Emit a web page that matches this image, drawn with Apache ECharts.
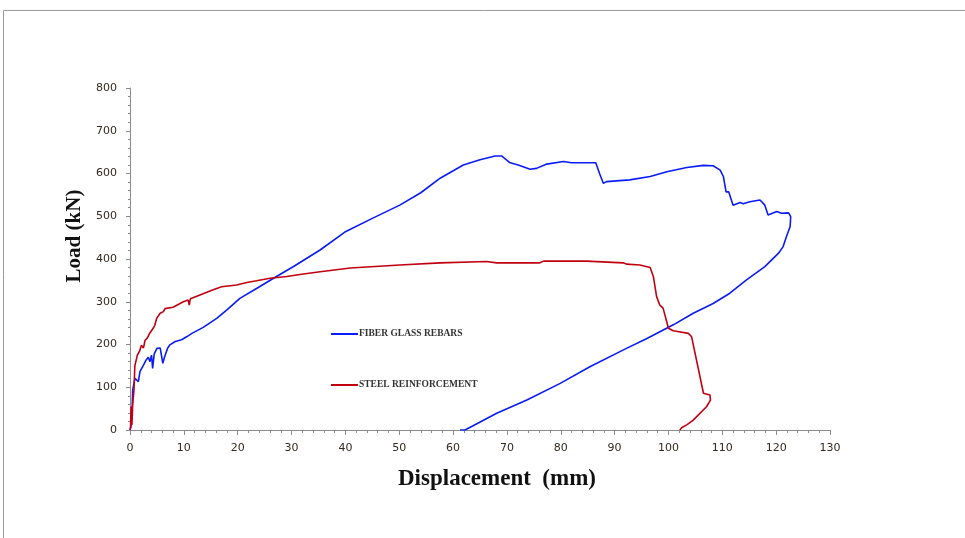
<!DOCTYPE html>
<html>
<head>
<meta charset="utf-8">
<script src="https://cdn.jsdelivr.net/npm/echarts@6/dist/echarts.min.js"></script>
<style>html,body{margin:0;padding:0;background:#fff;}#c{width:965px;height:538px;}</style>
</head>
<body>
<div id="c"></div>
<script>
var fiberDisp = [0,0.2,0.4,0.5,0.7,0.93,1.2,1.55,1.86,2.2,2.5,2.7,3.0,3.4,3.7,4.0,4.2,4.5,5.0,5.6,5.9,6.1,6.4,7.0,7.4,8.4,9.6,10.5,11.5,13.6,16.1,18.0,20.4,23.5,27.2,30.3,35.3,39.9,45,50.1,54,57.6,61.9,65.0,67.8,69.0,70.6,72.1,74.3,75.5,77.4,80.5,82.0,86.5,87.2,87.9,88.5,92.8,96.6,99.7,103.4,106.5,108.3,109.6,110.2,110.7,111.2,112.0,113.3,113.9,115.1,117.0,117.9,118.5,120.1,121.0,122.3,122.7,122.6,121.9,121.3,120.4,117.9,114.5,111.4,108.3,104.6,100.9,96.0,92.2,85.4,79.9,73.7,68.1,63.1,62.2,61.3];
var fiberLoad = [0,10,50,94,95,121,125,113,137,145,152,150,164,170,160,175,144,178,191,192,190,156,170,192,199,207,211,218,226,240,261,281,308,331,359,382,421,463,495,526,555,589,620,632,641,641,625,620,610,612,622,628,625,625,600,577,581,585,593,604,614,619,618,608,593,557,557,526,532,529,534,538,526,503,511,507,508,499,476,452,429,413,382,351,320,296,273,246,214,191,148,109,70,39,6,0,0];
var steelDisp = [0,0.1,0.2,0.35,0.5,0.74,0.9,1.1,1.36,1.8,2.1,2.35,2.5,2.8,3.2,3.6,4.3,4.6,4.95,5.6,6.2,6.5,8.0,9.3,9.9,10.8,11.0,11.2,13.0,15.2,17.0,19.8,21.7,23.5,26.0,29.1,32.2,35.3,40.9,50.1,57.6,66.2,68.1,76.1,76.8,84.8,85.1,91.6,92.2,94.7,96.6,97.2,97.8,98.4,99.0,100.0,100.9,103.7,104.3,106.5,107.7,107.8,107.1,104.6,103.4,102.5,102.1];
var steelLoad = [0,5,55,12,60,94,150,148,175,185,198,199,192,210,215,225,238,245,261,273,277,284,287,296,300,304,292,307,316,327,335,339,345,349,355,359,365,370,379,386,391,394,391,391,395,395,392,391,388,386,380,359,312,292,285,238,232,226,218,86,82,70,55,23,12,6,0];
var seriesNames = ['FIBER GLASS REBARS', 'STEEL REINFORCEMENT'];
var xTitle = 'Displacement  (mm)';
var yTitle = 'Load (kN)';

function pairs(xs, ys) { return xs.map(function (x, i) { return [x, ys[i]]; }); }

var chart = echarts.init(document.getElementById('c'));
var labelStyle = { color: '#33291f', fontFamily: 'DejaVu Sans', fontSize: 11 };
var axisGray = '#8c8c8c';
chart.setOption({
  animation: false,
  backgroundColor: '#fff',
  graphic: [{
    type: 'rect', silent: true,
    shape: { x: 3.5, y: 10.5, width: 1100, height: 700 },
    style: { fill: 'none', stroke: '#9a9a9a', lineWidth: 1 }
  }],
  grid: { left: 130, right: 135, top: 88, bottom: 108, containLabel: false },
  legend: {
    orient: 'vertical', left: 331, top: 329, itemGap: 41, padding: 0,
    icon: 'rect', itemWidth: 27, itemHeight: 2,
    textStyle: { fontFamily: 'Liberation Serif', fontWeight: 'bold', fontSize: 9.5, color: '#333', padding: [0, 0, 0, -4] },
    data: seriesNames
  },
  xAxis: {
    type: 'value', min: 0, max: 130, interval: 10,
    name: xTitle, nameLocation: 'middle', nameGap: 38,
    nameTextStyle: { fontFamily: 'Liberation Serif', fontWeight: 'bold', fontSize: 23, color: '#111', padding: [0, 0, 0, 34], verticalAlign: 'top' },
    axisLine: { lineStyle: { color: axisGray } },
    axisTick: { length: 5, lineStyle: { color: axisGray } },
    minorTick: { show: true, splitNumber: 5, length: 3, lineStyle: { color: axisGray } },
    axisLabel: Object.assign({ margin: 13 }, labelStyle),
    splitLine: { show: false }
  },
  yAxis: {
    type: 'value', min: 0, max: 800, interval: 100,
    name: yTitle, nameLocation: 'middle', nameGap: 45,
    nameTextStyle: { fontFamily: 'Liberation Serif', fontWeight: 'bold', fontSize: 21, color: '#111', padding: [0, 0, 0, 46] },
    axisLine: { show: true, lineStyle: { color: axisGray } },
    axisTick: { show: true, length: 4, lineStyle: { color: axisGray } },
    minorTick: { show: true, splitNumber: 5, length: 2, lineStyle: { color: axisGray } },
    axisLabel: Object.assign({ margin: 13 }, labelStyle),
    splitLine: { show: false }
  },
  series: [{
    name: seriesNames[0], type: 'line', showSymbol: false, symbol: 'none',
    data: pairs(fiberDisp, fiberLoad),
    lineStyle: { color: '#0a1cf5', width: 1.6 }, itemStyle: { color: '#0a1cf5' }
  }, {
    name: seriesNames[1], type: 'line', showSymbol: false, symbol: 'none',
    data: pairs(steelDisp, steelLoad),
    lineStyle: { color: '#c00010', width: 1.6 }, itemStyle: { color: '#c00010' }
  }]
});
</script>
</body>
</html>
